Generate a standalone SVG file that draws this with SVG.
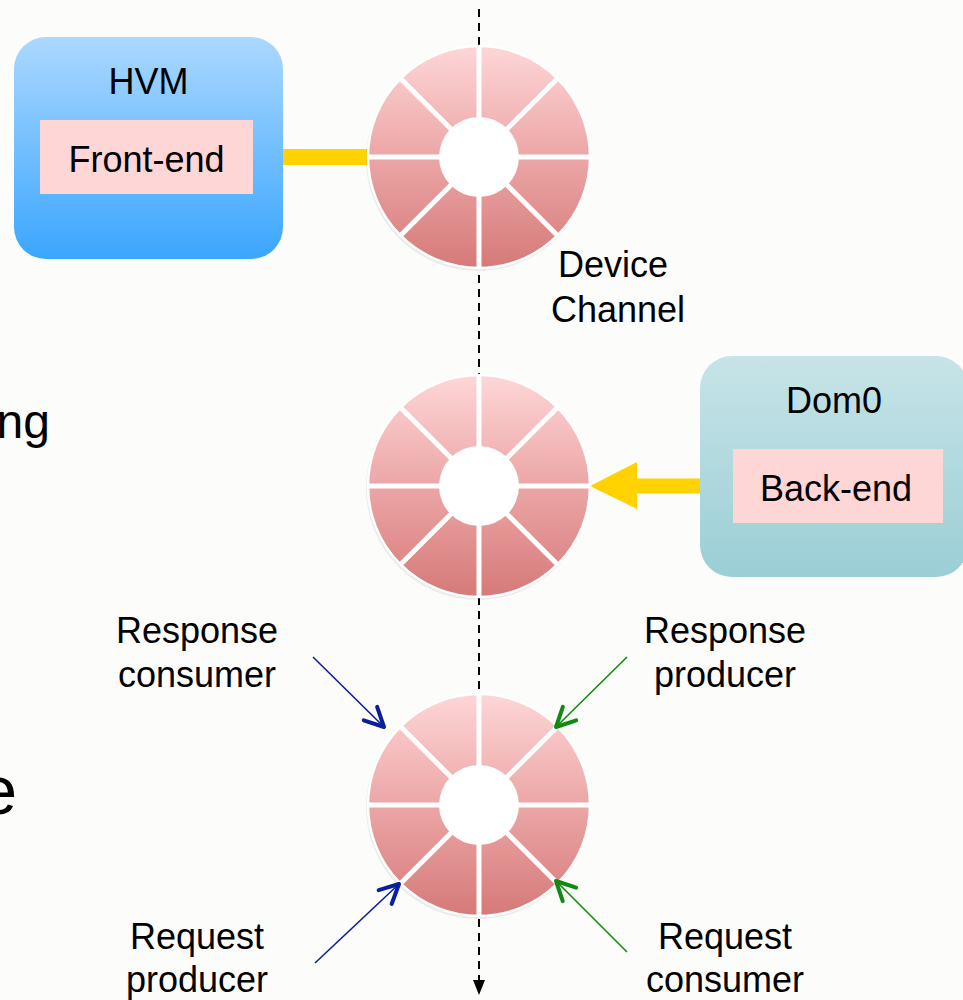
<svg xmlns="http://www.w3.org/2000/svg" xmlns:xlink="http://www.w3.org/1999/xlink" width="963" height="1000" viewBox="0 0 963 1000">
<style>
  text { font-family: "Liberation Sans", Arial, sans-serif; fill: #000; }
  .big { font-size: 36px; }
  .lbl { font-size: 36px; text-anchor: middle; }
  .blue { stroke: #0b1f9a; }
  .green { stroke: #128a12; }
  .thin { stroke-width: 1.6; fill: none; }
</style>
<defs>
  <linearGradient id="gRing" x1="0" y1="0" x2="0" y2="1">
    <stop offset="0" stop-color="#fed6d7"/>
    <stop offset="0.5" stop-color="#eca6a6"/>
    <stop offset="1" stop-color="#d57a79"/>
  </linearGradient>
  <linearGradient id="gHvm" x1="0" y1="0" x2="0" y2="1">
    <stop offset="0" stop-color="#abd8ff"/>
    <stop offset="1" stop-color="#3ba6fe"/>
  </linearGradient>
  <linearGradient id="gDom" x1="0" y1="0" x2="0" y2="1">
    <stop offset="0" stop-color="#c7e4e8"/>
    <stop offset="1" stop-color="#9bced5"/>
  </linearGradient>
  <g id="ringShape">
    <circle cx="-1" cy="2" r="112" fill="#000" fill-opacity="0.07"/>
    <circle cx="0" cy="0" r="111" fill="url(#gRing)" stroke="#ffffff" stroke-width="2.5"/>
    <g stroke="#ffffff" stroke-width="5">
      <line x1="-111" y1="0" x2="111" y2="0"/>
      <line x1="0" y1="-111" x2="0" y2="111"/>
      <line x1="-78.5" y1="-78.5" x2="78.5" y2="78.5"/>
      <line x1="78.5" y1="-78.5" x2="-78.5" y2="78.5"/>
    </g>
    <circle cx="0" cy="0" r="40" fill="#ffffff"/>
  </g>
  <marker id="mBlue" markerUnits="userSpaceOnUse" viewBox="-24 -14 28 28" markerWidth="28" markerHeight="28" refX="0" refY="0" orient="auto">
    <path d="M-19,-9.5 L0,0 L-19,9.5" fill="none" stroke="#0b1f9a" stroke-width="4" stroke-linecap="round" stroke-linejoin="round"/>
  </marker>
  <marker id="mGreen" markerUnits="userSpaceOnUse" viewBox="-24 -14 28 28" markerWidth="28" markerHeight="28" refX="0" refY="0" orient="auto">
    <path d="M-19,-9.5 L0,0 L-19,9.5" fill="none" stroke="#128a12" stroke-width="4" stroke-linecap="round" stroke-linejoin="round"/>
  </marker>
</defs>

<rect x="0" y="0" width="963" height="1000" fill="#fcfcfa"/>

<!-- partial slide text at left edge (cut off in the reference) -->
<text x="50" y="438" font-size="48" text-anchor="end">ng</text>
<text x="17" y="814" font-size="68" text-anchor="end">e</text>

<g id="connectors">
  <line x1="479" y1="9" x2="479" y2="982" stroke="#000" stroke-width="2" stroke-dasharray="8 6"/>
  <polygon points="473,980 485,980 479,995" fill="#000"/>
  <rect x="253" y="149" width="117" height="16" fill="#ffd200"/>
  <rect x="635" y="478.5" width="100" height="15" fill="#ffd200"/>
  <polygon points="590,486 637,462 637,509" fill="#ffd200"/>
</g>

<g id="hvm">
  <rect x="14" y="37" width="269" height="222" rx="32" fill="url(#gHvm)"/>
  <text class="big" x="148.5" y="94" text-anchor="middle">HVM</text>
  <g id="front-end">
    <rect x="40" y="120" width="213" height="74" fill="#fed6d6"/>
    <text class="big" x="146.5" y="172" text-anchor="middle">Front-end</text>
  </g>
</g>

<g id="dom0">
  <rect x="700" y="356" width="268" height="221" rx="32" fill="url(#gDom)"/>
  <text class="big" x="834" y="413" text-anchor="middle">Dom0</text>
  <g id="back-end">
    <rect x="733" y="449" width="210" height="74" fill="#fed6d6"/>
    <text class="big" x="836" y="501" text-anchor="middle">Back-end</text>
  </g>
</g>

<g id="ring1"><use href="#ringShape" xlink:href="#ringShape" x="479" y="157"/></g>
<g id="ring2"><use href="#ringShape" xlink:href="#ringShape" x="479" y="486"/></g>
<g id="ring3"><use href="#ringShape" xlink:href="#ringShape" x="479" y="805"/></g>

<g id="device-channel-label">
  <text class="lbl" x="613" y="277">Device</text>
  <text class="lbl" x="618" y="322">Channel</text>
</g>

<g id="pointers">
  <line class="thin blue" x1="313" y1="657" x2="384" y2="727" marker-end="url(#mBlue)"/>
  <line class="thin green" x1="627" y1="657" x2="556" y2="727" marker-end="url(#mGreen)"/>
  <line class="thin blue" x1="315" y1="963" x2="399" y2="884" marker-end="url(#mBlue)"/>
  <line class="thin green" x1="627" y1="952" x2="556" y2="881" marker-end="url(#mGreen)"/>
</g>

<g id="resp-consumer">
  <text class="lbl" x="197" y="643">Response</text>
  <text class="lbl" x="197" y="687">consumer</text>
</g>
<g id="resp-producer">
  <text class="lbl" x="725" y="643">Response</text>
  <text class="lbl" x="725" y="687">producer</text>
</g>
<g id="req-producer">
  <text class="lbl" x="197" y="949">Request</text>
  <text class="lbl" x="197" y="992">producer</text>
</g>
<g id="req-consumer">
  <text class="lbl" x="725" y="949">Request</text>
  <text class="lbl" x="725" y="992">consumer</text>
</g>
</svg>
